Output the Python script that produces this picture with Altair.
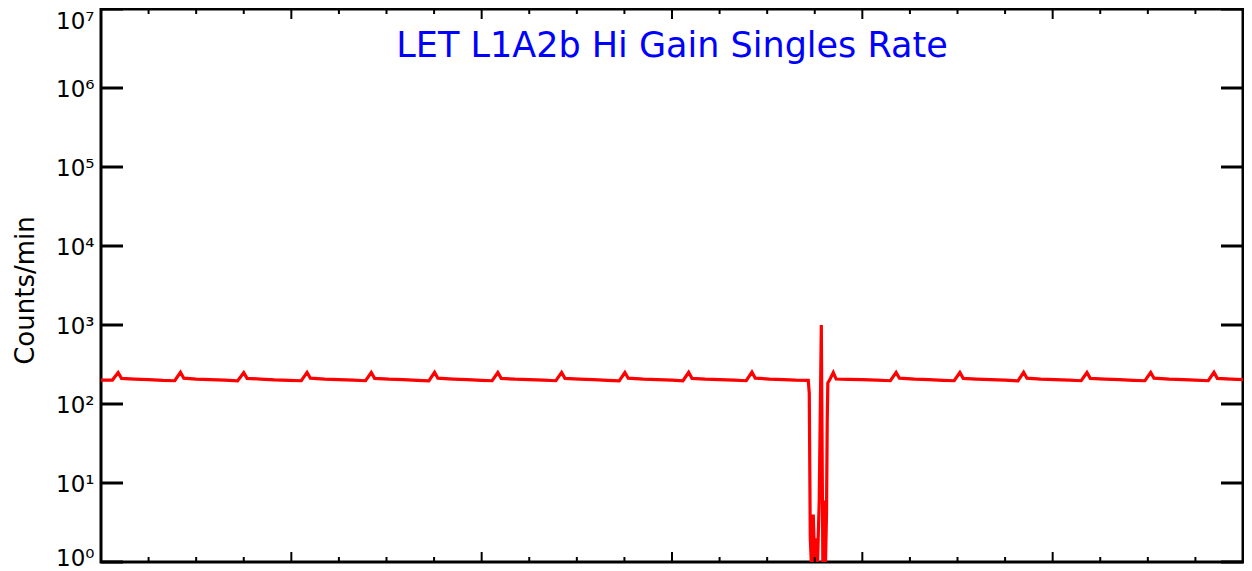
import altair as alt
import pandas as pd

# ---- data ----
hours = [
    0.00, 0.24, 0.36, 0.43, 0.70, 1.00, 1.30, 1.55,
    1.67, 1.74, 2.00, 2.30, 2.60, 2.87,
    3.00, 3.07, 3.35, 3.65, 3.95, 4.21,
    4.33, 4.40, 4.70, 5.00, 5.30, 5.56,
    5.68, 5.75, 6.05, 6.35, 6.65, 6.89,
    7.01, 7.08, 7.40, 7.70, 8.00, 8.22,
    8.34, 8.41, 8.70, 9.00, 9.30, 9.56,
    9.68, 9.75, 10.05, 10.35, 10.65, 10.89,
    11.01, 11.08, 11.40, 11.70, 12.00, 12.23,
    12.35, 12.42, 12.70, 13.00, 13.30, 13.56,
    13.68, 13.75, 14.05, 14.35, 14.60, 14.864,
    14.885, 14.906, 14.927, 14.969, 14.997, 15.031, 15.059, 15.094, 15.138,
    15.170, 15.198, 15.226, 15.247, 15.262, 15.275, 15.32, 15.39, 15.45,
    15.70, 16.00, 16.30, 16.59,
    16.71, 16.78, 17.10, 17.40, 17.70, 17.93,
    18.05, 18.12, 18.40, 18.70, 19.00, 19.27,
    19.39, 19.46, 19.75, 20.05, 20.35, 20.60,
    20.72, 20.79, 21.10, 21.40, 21.70, 21.94,
    22.06, 22.13, 22.45, 22.75, 23.00, 23.27,
    23.39, 23.46, 23.75, 24.00,
]
counts = [
    200, 201, 250, 211, 207, 204, 199, 197,
    252, 212, 206, 203, 200, 196,
    249, 211, 207, 202, 199, 197,
    251, 212, 206, 203, 200, 197,
    250, 211, 206, 204, 199, 196,
    252, 212, 207, 203, 199, 197,
    250, 211, 206, 203, 200, 197,
    251, 211, 207, 203, 199, 196,
    250, 212, 206, 203, 200, 197,
    252, 211, 206, 203, 200, 197,
    253, 212, 207, 204, 200, 199,
    137, 2, 1, 4, 1, 2, 1, 6, 1000,
    1, 6, 1, 4, 60, 185, 206, 250, 207,
    205, 203, 200, 197,
    251, 212, 206, 203, 199, 197,
    250, 211, 207, 203, 200, 196,
    252, 212, 206, 203, 200, 197,
    250, 211, 207, 203, 199, 197,
    251, 212, 206, 203, 200, 197,
    252, 211, 206, 203,
]
x_major = [0, 4, 8, 12, 16, 20, 24]
x_minor = [1, 2, 3, 5, 6, 7, 9, 10, 11, 13, 14, 15, 17, 18, 19, 21, 22, 23]
y_decades = [1, 10, 100, 1000, 10000, 100000, 1000000, 10000000]
title_text = ["LET L1A2b Hi Gain Singles Rate"]
y_title = "Counts/min"

W, H = 1142, 553
LEFT = 93
FONT = "DejaVu Sans"

df = pd.DataFrame({"t": hours, "c": counts})
xs = alt.Scale(domain=[0, 24], nice=False, zero=False)
ys = alt.Scale(type="log", domain=[1, 1e7], nice=False)

sup = "['\u2070','\u00b9','\u00b2','\u00b3','\u2074','\u2075','\u2076','\u2077']"
label_expr = "'10' + " + sup + "[round(log(datum.value)/LN10)]"

line = alt.Chart(df).mark_line(color="#FF0000", strokeWidth=3.2, clip=True).encode(
    x=alt.X("t:Q", scale=xs, axis=None),
    y=alt.Y(
        "c:Q",
        scale=ys,
        axis=alt.Axis(
            values=y_decades,
            labelExpr=label_expr,
            ticks=False,
            tickSize=0,
            domain=False,
            grid=False,
            labelPadding=7,
            labelFont=FONT,
            labelFontSize=23,
            labelColor="black",
            labelOverlap=False,
            labelFlush=False,
            labelOffset={
                "condition": [
                    {"test": "datum.value >= 1e7", "value": 12},
                    {"test": "datum.value <= 1", "value": -4},
                ],
                "value": 1,
            },
            title=y_title,
            titleFont=FONT,
            titleFontSize=26,
            titleFontWeight="normal",
            titleColor="black",
            titleAngle=270,
            titleBaseline="alphabetic",
            titleAlign="center",
            titleX=-(102 - 33) + (102 - 8 - LEFT),
            titleY=281,
        ),
    ),
)

ydf = pd.DataFrame({"v": y_decades})
y_left = alt.Chart(ydf).mark_rule(color="black", strokeWidth=3).encode(
    y=alt.Y("v:Q", scale=ys, axis=None), x=alt.value(0), x2=alt.value(22)
)
y_right = alt.Chart(ydf).mark_rule(color="black", strokeWidth=3).encode(
    y=alt.Y("v:Q", scale=ys, axis=None), x=alt.value(W - 22), x2=alt.value(W)
)

xmaj = pd.DataFrame({"v": x_major})
xmin = pd.DataFrame({"v": x_minor})


def xticks(d, y0, y1):
    return alt.Chart(d).mark_rule(color="black", strokeWidth=2).encode(
        x=alt.X("v:Q", scale=xs, axis=None), y=alt.value(y0), y2=alt.value(y1)
    )


ticks = [
    xticks(xmaj, 0, 10),
    xticks(xmin, 0, 5),
    xticks(xmaj, H, H - 10),
    xticks(xmin, H, H - 5),
]

title = alt.Chart(pd.DataFrame({"s": title_text})).mark_text(
    font=FONT, fontSize=35, color="#0000FF", align="center", baseline="alphabetic"
).encode(text="s:N", x=alt.value(W / 2), y=alt.value(48))

chart = alt.layer(line, y_left, y_right, *ticks, title).resolve_axis(
    x="independent", y="independent"
).properties(
    width=W,
    height=H,
    padding={"left": LEFT, "top": 1, "right": 1, "bottom": 10},
    autosize=alt.AutoSizeParams(type="none"),
    background="white",
).configure_view(stroke="black", strokeWidth=3)

chart.save("out.html", embed_options={"renderer": "svg", "actions": False})
